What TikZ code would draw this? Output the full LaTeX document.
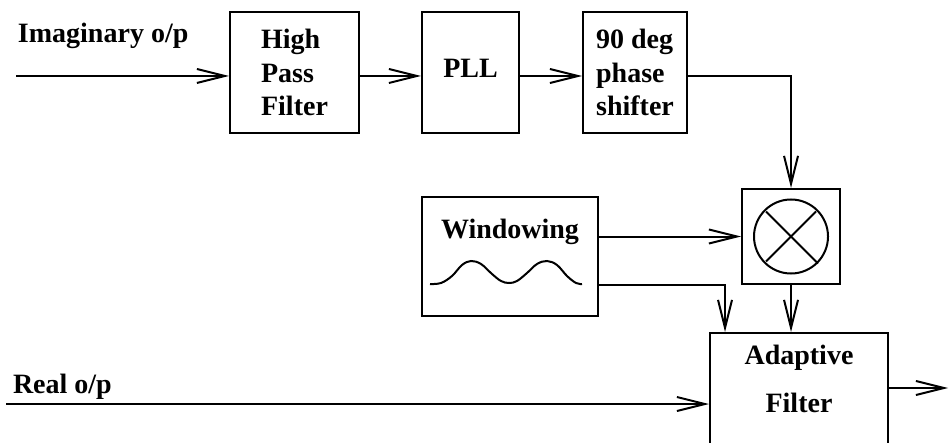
\documentclass[tikz,border=0pt]{standalone}
\usepackage{fontspec}
\setmainfont{Liberation Serif}
\usetikzlibrary{arrows.meta,calc,positioning}

\begin{document}
\begin{tikzpicture}[x=0.5pt,y=-0.5pt,>={Straight Barb[length=14pt,width=7pt]},line width=1pt,
  every node/.style={font=\fontsize{14}{16.75}\selectfont\bfseries},
  block/.style={draw,line width=1pt,inner sep=0pt,align=left}]
  \clip (0,0) rectangle (951,443);
  % top row
  \node[block,minimum width=64.5pt,minimum height=60.5pt] (hpf) at (294.5,72.5) {High\\Pass\\Filter};
  \node[block,minimum width=48.5pt,minimum height=60.5pt,text depth=4pt] (pll) at (470.5,72.5) {PLL};
  \node[block,minimum width=52pt,minimum height=60.5pt] (shift) at (635,72.5) {90 deg\\phase\\shifter};
  \node[anchor=base west,inner sep=0pt] (imag) at (17,43) {Imaginary o/p};
  \coordinate (imin) at (16,76);
  \draw[->] (imin) -- (imin -| hpf.west);
  \draw[->] (imin -| hpf.east) -- (imin -| pll.west);
  \draw[->] (imin -| pll.east) -- (imin -| shift.west);
  % multiplier and window
  \node[block,minimum width=49pt,minimum height=47.5pt] (mult) at (791,236.5) {};
  \draw (mult.center) circle[radius=18.5pt];
  \draw ($(mult)+(-25,-25)$) -- ($(mult)+(27,27)$);
  \draw ($(mult)+(25,-25)$) -- ($(mult)+(-25,25)$);
  \node[block,minimum width=88pt,minimum height=59.5pt] (win) at (510,256.5) {};
  \node[anchor=base,inner sep=0pt] (wintext) at (510,238) {Windowing};
  \draw plot[smooth,tension=0.6] coordinates {(430,284) (441,283) (452,276) (462,265) (471,261)
    (481,264) (492,274) (501,281) (509,283) (517,281) (527,273) (537,264) (547,261)
    (557,265) (567,276) (576,283) (582,284)};
  \draw[->] (imin -| shift.east) -| (mult.north);
  \draw[->] (mult.west -| win.east) -- (mult.west);
  % adaptive filter
  \node[block,anchor=north,minimum width=89pt,minimum height=80pt] (af) at (799,332) {};
  \node[align=center,inner sep=0pt] (aftext) at (799,379) {Adaptive\\[7pt]Filter};
  \draw[->] (win.east |- mult.south) -| ([xshift=8pt]af.north west);
  \draw[->] (mult.south) -- (mult.south |- af.north);
  \node[anchor=base west,inner sep=0pt] (real) at (12,393) {Real o/p};
  \coordinate (rein) at (6,404);
  \draw[->] (rein) -- (rein -| af.west);
  \coordinate (out) at (948,388);
  \draw[->] (af.east |- out) -- (out);
\end{tikzpicture}
\end{document}
